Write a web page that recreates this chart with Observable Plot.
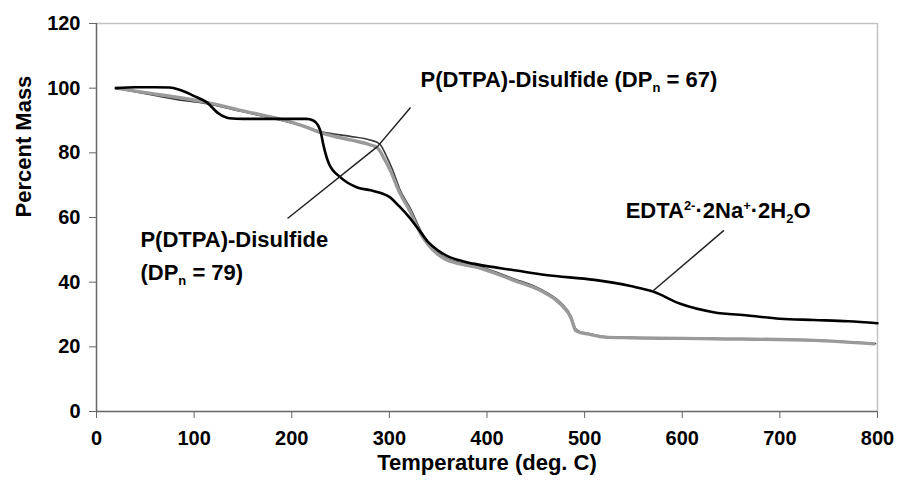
<!DOCTYPE html>
<html><head><meta charset="utf-8">
<script src="https://cdn.jsdelivr.net/npm/d3@7"></script>
<script src="https://cdn.jsdelivr.net/npm/@observablehq/plot@0.6"></script>
<style>body{margin:0;background:#fff}</style>
</head><body><div id="chart"></div>
<script>
// EDTA(2-) 2Na(+) 2H2O
const edtaTemp = [20, 40, 60, 75, 85, 99, 113, 125, 136, 150, 180, 215, 222, 227, 230, 232, 238, 250, 267, 281, 292, 300, 310, 320, 330, 340, 350, 360, 375, 390, 430, 460, 510, 547, 570, 598, 632, 667, 700, 735, 770, 800];
const edtaMass = [100, 100.3, 100.3, 100.2, 99.5, 97.7, 95.6, 92.2, 90.7, 90.5, 90.5, 90.5, 90, 88.5, 86, 83, 76.7, 72.4, 69.3, 68.4, 67.5, 66.4, 63.5, 60.2, 56.3, 52.3, 49.8, 48, 46.5, 45.5, 43.6, 42.2, 40.7, 38.8, 37.1, 33.3, 30.7, 29.7, 28.7, 28.3, 27.9, 27.3];
// P(DTPA)-Disulfide DPn = 79
const dp79Temp = [20, 50, 80, 113, 150, 190, 210, 232, 260, 280, 288, 295, 301, 310, 321, 332, 340, 356, 370, 390, 428, 455, 475, 486, 491, 496, 503, 520, 547, 632, 735, 796];
const dp79Mass = [100, 98.6, 97.3, 95.6, 93, 90.3, 88.5, 86, 84, 82.5, 81.5, 78, 74.5, 68, 62, 55, 51.5, 47.3, 45.8, 44.6, 40.5, 37.4, 33.3, 29, 25, 24.4, 24, 23, 22.8, 22.5, 22, 20.9];
// P(DTPA)-Disulfide DPn = 67
const dp67Temp = [20, 50, 80, 113, 150, 190, 210, 232, 260, 280, 290, 297, 303, 311, 322, 333, 341, 356, 370, 390, 428, 455, 475, 486, 491, 496, 503, 520, 547, 632, 735, 798];
const dp67Mass = [100, 98.3, 96.6, 95.2, 92.7, 90, 88.4, 86.4, 85.1, 84, 82.8, 79, 75, 68.5, 62.5, 55.5, 52, 47.8, 46.2, 45, 41, 37.8, 33.8, 29.5, 25.5, 24.6, 24.2, 23.2, 22.9, 22.6, 22.1, 21];

const xTicks = [0, 100, 200, 300, 400, 500, 600, 700, 800];
const yTicks = [0, 20, 40, 60, 80, 100, 120];
const xTitle = "Temperature (deg. C)";
const yTitle = "Percent Mass";

// annotation labels (markup: _{sub} ^{sup}) and leader lines, in data units
const labelText = ["P(DTPA)-Disulfide (DP_{n} = 67)", "P(DTPA)-Disulfide", "(DP_{n} = 79)", "EDTA^{2-}·2Na^{+}·2H_{2}O"];
const labelTemp = [332, 45, 45, 542];
const labelMass = [102.4, 53.1, 42.8, 62.0];
const leaderFrom = [[195.7, 59.7], [288, 82], [569.3, 37.1]];
const leaderTo = [[288, 82], [321.7, 94], [642.7, 56]];

const toRows = (T, M) => T.map((t, i) => ({t, m: M[i]}));
const edta = toRows(edtaTemp, edtaMass);
const dp79 = toRows(dp79Temp, dp79Mass);
const dp67 = toRows(dp67Temp, dp67Mass);
const labels = labelText.map((text, i) => ({text, x: labelTemp[i], y: labelMass[i]}));
const leaders = leaderFrom.map((p, i) => ({x1: p[0], y1: p[1], x2: leaderTo[i][0], y2: leaderTo[i][1]}));

const chart = Plot.plot({
  width: 897, height: 491,
  marginLeft: 96, marginRight: 20, marginTop: 23, marginBottom: 80,
  style: {fontFamily: "'Liberation Sans', Arial, sans-serif", fontSize: "20px", fontWeight: "bold", color: "#000", background: "#fff"},
  x: {domain: [0, 800], label: null},
  y: {domain: [0, 120], label: null},
  marks: [
    Plot.ruleY([120], {stroke: "#c4c4c4", strokeWidth: 1.5}),
    Plot.ruleX([800], {stroke: "#c4c4c4", strokeWidth: 1.5}),
    Plot.axisX({ticks: xTicks, tickSize: 7, tickPadding: 12, stroke: "#666", label: null}),
    Plot.axisY({ticks: yTicks, tickSize: 7, tickPadding: 9, stroke: "#666", label: null}),
    Plot.ruleX([0], {stroke: "#666", strokeWidth: 1.5}),
    Plot.ruleY([0], {stroke: "#666", strokeWidth: 1.5}),
    Plot.line(dp67, {x: "t", y: "m", stroke: "#3a3a3a", strokeWidth: 1.6, curve: "monotone-x"}),
    Plot.line(dp79, {x: "t", y: "m", stroke: "#9a9a9a", strokeWidth: 3.4, curve: "monotone-x"}),
    Plot.line(edta, {x: "t", y: "m", stroke: "#000", strokeWidth: 2.6, curve: "monotone-x"}),
    Plot.link(leaders, {x1: "x1", y1: "y1", x2: "x2", y2: "y2", stroke: "#222", strokeWidth: 1.5}),
    Plot.text(labels, {x: "x", y: "y", text: "text", textAnchor: "start", fill: "#000", fontSize: 22}),
    Plot.text([xTitle], {frameAnchor: "bottom", dy: 58, text: d => d, fill: "#000", fontSize: 22}),
    Plot.text([yTitle], {frameAnchor: "left", dx: -73, rotate: -90, text: d => d, fill: "#000", fontSize: 22})
  ]
});
document.getElementById("chart").appendChild(chart);

// turn _{..} and ^{..} markup into sub/superscript tspans
d3.select(chart).selectAll("text").filter(function () {
  return /[_^]\{/.test(this.textContent);
}).each(function () {
  const el = d3.select(this);
  const s = el.text();
  el.text(null);
  const re = /([_^])\{([^}]*)\}/g;
  let last = 0, m, shift = 0;
  const add = (txt, dy, small) => {
    const ts = el.append("tspan").text(txt);
    if (dy) ts.attr("dy", dy);
    if (small) ts.attr("font-size", "13px");
  };
  while ((m = re.exec(s))) {
    if (m.index > last) { add(s.slice(last, m.index), shift ? -shift : 0, false); shift = 0; }
    const d = m[1] === "^" ? -8 : 5;
    add(m[2], d - shift, true);
    shift = d;
    last = re.lastIndex;
  }
  if (last < s.length) add(s.slice(last), shift ? -shift : 0, false);
});
</script>
</body></html>
